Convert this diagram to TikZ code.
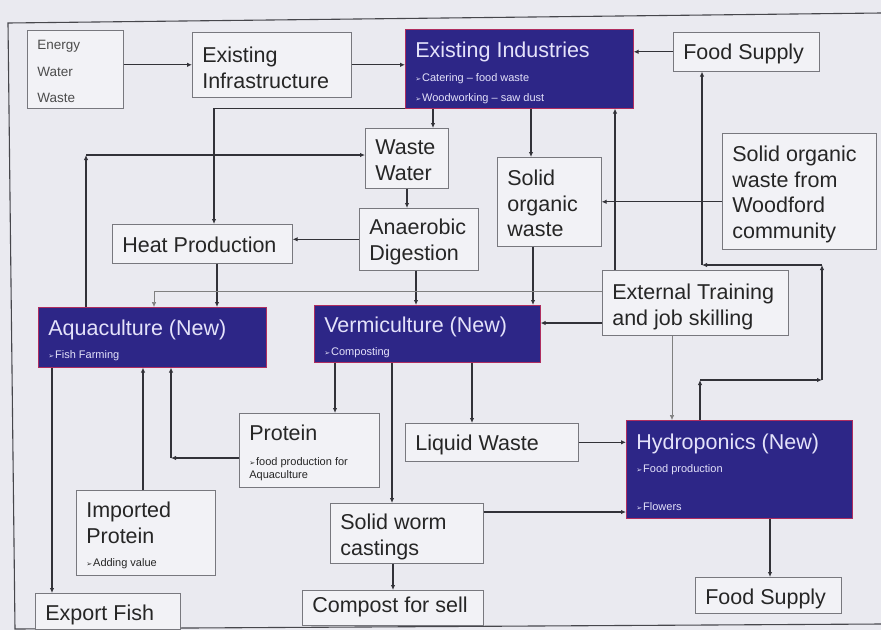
\documentclass[tikz,border=0pt]{standalone}
\usepackage{fontspec}
\setmainfont{Liberation Sans}
\newfontfamily\dejavu{DejaVu Sans}
\usepackage{tikz}
\usetikzlibrary{arrows.meta}
\definecolor{photobg}{RGB}{234,234,240}
\definecolor{boxfill}{RGB}{242,242,246}
\definecolor{boxline}{RGB}{120,120,126}
\definecolor{indigo}{RGB}{45,38,135}
\definecolor{indigoedge}{RGB}{175,45,95}
\definecolor{lilac}{RGB}{228,226,250}
\definecolor{wire}{RGB}{50,50,56}
\newcommand{\bulletarrow}{{\dejavu\fontsize{7}{8}\selectfont\char"27A2}\kern1pt}
\newcommand{\boxtitle}{\fontsize{21.5}{20}\selectfont}
\newcommand{\bultxt}{\fontsize{11}{13}\selectfont}
\tikzset{
  proc/.style={draw=boxline, fill=boxfill, line width=0.6pt, anchor=north west,
               align=flush left, inner xsep=10pt, inner ysep=0pt, text=black!85,
               font=\fontsize{21.5}{25.5}\selectfont},
  newind/.style={draw=indigoedge, fill=indigo, line width=0.6pt, anchor=north west,
                 align=flush left, inner xsep=10pt, inner ysep=0pt, text=lilac,
                 font=\fontsize{11}{20}\selectfont},
  flow/.style={-{Latex[length=5pt,width=4.5pt]}, line width=1.1pt, draw=wire},
  faint/.style={-{Latex[length=5pt,width=4.5pt]}, line width=0.6pt, draw=black!50},
  frame/.style={draw=wire!90, line width=1.1pt},
}
\begin{document}
\begin{tikzpicture}[x=1pt, y=-1pt]
  \useasboundingbox (0,0) rectangle (881,630);
  \fill[photobg] (0,0) rectangle (881,630);
  % outer frame (the photo is slightly rotated)
  \draw[frame] (881,13) -- (8,23) -- (15,629) -- (881,624);
  % top row
  \node[proc, text=black!70, font=\fontsize{13.5}{26.5}\selectfont, text width=76pt,
        text height=19.5pt, text depth=58.5pt] (energy) at (27,30) {Energy\\Water\\Waste};
  \node[proc, text width=139pt, text height=30.5pt, text depth=34.5pt] (infra) at (192,32)
    {Existing\\Infrastructure};
  \node[newind, text width=208pt, text height=28.5pt, text depth=50.5pt] (industries) at (405,29)
    {{\boxtitle Existing Industries}\\[4pt]\bulletarrow Catering – food waste\\\bulletarrow Woodworking – saw dust};
  \node[proc, text width=126pt, text height=27.5pt, text depth=11.5pt] (foodtop) at (673,32) {Food Supply};
  % second tier
  \node[proc, text width=63pt, text height=26.5pt, text depth=33.5pt] (wastewater) at (365,128) {Waste\\Water};
  \node[proc, text width=84pt, text height=28.5pt, text depth=60.5pt] (solidorg) at (497,157) {Solid\\organic\\waste};
  \node[proc, text width=134pt, text height=28.5pt, text depth=87.5pt] (woodford) at (722,133)
    {Solid organic\\waste from\\Woodford\\community};
  \node[proc, text width=99pt, text height=26.5pt, text depth=35.5pt] (anaerobic) at (359,208) {Anaerobic\\Digestion};
  \node[proc, text width=160pt, text height=28.5pt, text depth=10.5pt] (heat) at (112,224) {Heat Production};
  \node[proc, text width=166pt, text height=29.5pt, text depth=35.5pt] (external) at (602,270)
    {External Training\\and job skilling};
  % new enterprises
  \node[newind, text width=208pt, text height=28.5pt, text depth=31.5pt] (aqua) at (38,307)
    {{\boxtitle Aquaculture (New)}\\[3pt]\bulletarrow Fish Farming};
  \node[newind, text width=206pt, text height=27.5pt, text depth=29.5pt] (vermi) at (314,305)
    {{\boxtitle Vermiculture (New)}\\[3pt]\bulletarrow Composting};
  \node[newind, text width=206pt, text height=29.5pt, text depth=68.5pt] (hydro) at (626,420)
    {{\boxtitle Hydroponics (New)}\\[3pt]\bulletarrow Food production\\[18pt]\bulletarrow Flowers};
  % products
  \node[proc, text width=120pt, text height=27.5pt, text depth=46.5pt] (protein) at (239,413)
    {Protein\\[-0.5pt]{\bultxt\bulletarrow food production for}\\[-12.5pt]{\bultxt Aquaculture}};
  \node[proc, text width=153pt, text height=27.5pt, text depth=10.5pt] (liquid) at (405,423) {Liquid Waste};
  \node[proc, text width=119pt, text height=27.5pt, text depth=57.5pt] (imported) at (76,490)
    {Imported\\Protein\\[-2.5pt]{\bultxt\bulletarrow Adding value}};
  \node[proc, text width=133pt, text height=26.5pt, text depth=33.5pt] (worm) at (330,503) {Solid worm\\castings};
  \node[proc, text width=125pt, text height=27.5pt, text depth=8.5pt] (export) at (35,593) {Export Fish};
  \node[proc, text width=161pt, text height=22.5pt, text depth=12.5pt] (compost) at (302,590) {Compost for sell};
  \node[proc, text width=126pt, text height=27.5pt, text depth=8.5pt] (foodbot) at (695,577) {Food Supply};
  % bend points
  \coordinate (aquabend) at (86,155);
  \coordinate (protbend) at (171,458);
  \coordinate (loopa) at (700,380);
  \coordinate (loopb) at (822,380);
  \coordinate (loopc) at (822,265);
  \coordinate (loopd) at (702,265);
  % feeds into existing industries
  \draw[flow] (energy.east |- infra.west) -- (infra.west);
  \draw[flow] (infra.east) -- (infra.east -| industries.west);
  \draw[flow] (foodtop.west) -- (foodtop.west -| industries.east);
  \draw[flow] (external.north -| 615,0) -- (industries.south -| 615,0);
  % waste streams
  \draw[flow] (industries.south -| 433,0) -- (wastewater.north -| 433,0);
  \draw[flow] (industries.south west) -| (heat.north -| 214,0);
  \draw[flow] (industries.south -| 531,0) -- (solidorg.north -| 531,0);
  \draw[flow] (woodford.west |- solidorg.east) -- (solidorg.east);
  \draw[flow] (aqua.north -| aquabend) -- (aquabend);
  \draw[flow] (aquabend) -- (aquabend -| wastewater.west);
  \draw[flow] (wastewater.south -| 407,0) -- (anaerobic.north -| 407,0);
  \draw[flow] (anaerobic.west) -- (anaerobic.west -| heat.east);
  \draw[flow] (heat.south -| 217,0) -- (aqua.north -| 217,0);
  \draw[flow] (anaerobic.south -| 416,0) -- (vermi.north -| 416,0);
  \draw[flow] (solidorg.south -| 533,0) -- (vermi.north -| 533,0);
  % training
  \draw[faint] (external.west |- 0,291) -| (aqua.north -| 154,0);
  \draw[flow] (external.west |- 0,323) -- (vermi.east |- 0,323);
  \draw[faint] (external.south -| 672,0) -- (hydro.north -| 672,0);
  % outputs of the new enterprises
  \draw[flow] (vermi.south -| 335,0) -- (protein.north -| 335,0);
  \draw[flow] (vermi.south -| 472,0) -- (liquid.north -| 472,0);
  \draw[flow] (vermi.south -| 392,0) -- (worm.north -| 392,0);
  \draw[flow] (protein.west |- protbend) -- (protbend);
  \draw[flow] (protbend) -- (aqua.south -| protbend);
  \draw[flow] (imported.north -| 143,0) -- (aqua.south -| 143,0);
  \draw[flow] (aqua.south -| 52,0) -- (export.north -| 52,0);
  \draw[flow] (liquid.east) -- (liquid.east -| hydro.west);
  \draw[flow] (worm.east |- 0,512) -- (hydro.west |- 0,512);
  \draw[flow] (worm.south -| 393,0) -- (compost.north -| 393,0);
  \draw[flow] (hydro.south -| 770,0) -- (foodbot.north -| 770,0);
  % hydroponics back to food supply
  \draw[flow] (hydro.north -| loopa) -- (loopa);
  \draw[flow] (loopa) -- (loopb);
  \draw[flow] (loopb) -- (loopc);
  \draw[flow] (loopc) -- (loopd);
  \draw[flow] (loopd) -- (foodtop.south -| loopd);
\end{tikzpicture}
\end{document}
